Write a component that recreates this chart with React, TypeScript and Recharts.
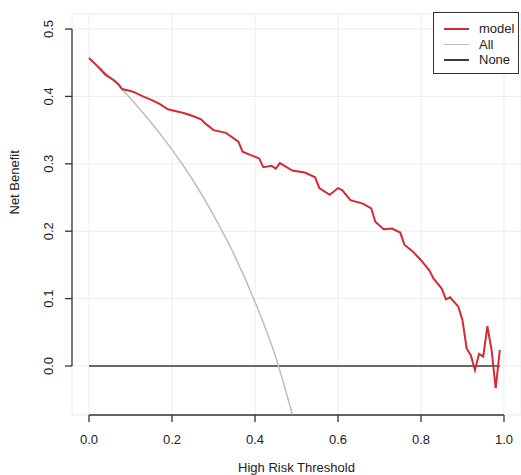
import React from "react";
import {
  LineChart,
  Line,
  XAxis,
  YAxis,
  CartesianGrid,
  ReferenceLine,
  Legend,
} from "recharts";

// threshold values and net benefit
const modelThreshold = [
  0, 0.02, 0.04, 0.06, 0.07, 0.08, 0.1, 0.11, 0.13, 0.15, 0.17, 0.19, 0.21,
  0.23, 0.25, 0.27, 0.28, 0.3, 0.33, 0.36, 0.37, 0.39, 0.41, 0.42, 0.44, 0.45,
  0.46, 0.49, 0.52, 0.545, 0.555, 0.58, 0.6, 0.61, 0.63, 0.66, 0.68, 0.69, 0.71,
  0.73, 0.75, 0.76, 0.78, 0.8, 0.82, 0.83, 0.85, 0.86, 0.87, 0.89, 0.9, 0.91,
  0.92, 0.93, 0.94, 0.95, 0.96, 0.97, 0.98, 0.99,
];
const modelBenefit = [
  0.457, 0.445, 0.432, 0.424, 0.419, 0.411, 0.408, 0.406, 0.4, 0.395, 0.389,
  0.381, 0.378, 0.375, 0.371, 0.366, 0.36, 0.35, 0.346, 0.333, 0.318, 0.313,
  0.308, 0.295, 0.297, 0.293, 0.301, 0.29, 0.287, 0.28, 0.264, 0.254, 0.264,
  0.261, 0.246, 0.241, 0.234, 0.214, 0.203, 0.204, 0.198, 0.18, 0.17, 0.157,
  0.142, 0.13, 0.115, 0.099, 0.102, 0.088, 0.068, 0.026, 0.016, -0.006, 0.018,
  0.014, 0.059, 0.024, -0.033, 0.024,
];

const allThreshold = [0, 0.05, 0.1, 0.15, 0.2, 0.25, 0.3, 0.35, 0.4, 0.45, 0.49];
const allBenefit = [
  0.457, 0.429, 0.397, 0.361, 0.321, 0.276, 0.224, 0.165, 0.095, 0.013, -0.072,
];

const noneThreshold = [0, 0.99];
const noneBenefit = [0, 0];

const xTicks = [0, 0.2, 0.4, 0.6, 0.8, 1.0];
const yTicks = [0, 0.1, 0.2, 0.3, 0.4, 0.5];

const legendNames = ["model", "All", "None"];
const legendColors = ["#d42a33", "#bdbdbd", "#3a3a3a"];

const modelData = modelThreshold.map((t, i) => ({ t, nb: modelBenefit[i] }));
const allData = allThreshold.map((t, i) => ({ t, nb: allBenefit[i] }));
const noneData = noneThreshold.map((t, i) => ({ t, nb: noneBenefit[i] }));

const font = "'Liberation Sans', Arial, sans-serif";
const ink = "#333";

const XTick = (props: any) => {
  const { x, payload } = props;
  return (
    <text x={x} y={444} textAnchor="middle" fontSize={13} fill="#222" fontFamily={font}>
      {Number(payload.value).toFixed(1)}
    </text>
  );
};

const YTick = (props: any) => {
  const { y, payload } = props;
  return (
    <text
      transform={`translate(53,${y}) rotate(-90)`}
      textAnchor="middle"
      fontSize={13}
      fill="#222"
      fontFamily={font}
    >
      {Number(payload.value).toFixed(1)}
    </text>
  );
};

const LegendBox = () => (
  <div
    style={{
      border: `1px solid ${ink}`,
      background: "#fff",
      width: 86,
      height: 62,
      boxSizing: "border-box",
      padding: "8px 0 0 10px",
      fontFamily: font,
      fontSize: 13,
      color: "#222",
      lineHeight: "15.5px",
    }}
  >
    {legendNames.map((name, i) => (
      <div key={name} style={{ display: "flex", alignItems: "center" }}>
        <span
          style={{
            display: "inline-block",
            width: 25,
            height: i === 0 ? 2 : 1.5,
            background: legendColors[i],
            marginRight: 10,
          }}
        />
        <span>{name}</span>
      </div>
    ))}
  </div>
);

export default function App() {
  return (
    <div style={{ position: "absolute", left: 0, top: 0, background: "#fff" }}>
      <LineChart
        width={521}
        height={475}
        margin={{ top: 14, right: 0, bottom: 0, left: 0 }}
      >
        <CartesianGrid stroke="#ececec" strokeWidth={1} />
        <XAxis
          type="number"
          dataKey="t"
          domain={[-0.041, 1.041]}
          ticks={xTicks}
          allowDataOverflow
          axisLine={false}
          tickSize={7}
          tickLine={{ stroke: ink, strokeWidth: 1.3 }}
          tick={<XTick />}
          height={60}
          label={{
            value: "High Risk Threshold",
            position: "insideBottom",
            offset: 3,
            fontSize: 13,
            fill: "#222",
            fontFamily: font,
          }}
        />
        <YAxis
          type="number"
          domain={[-0.0727, 0.5223]}
          ticks={yTicks}
          allowDataOverflow
          axisLine={false}
          tickSize={7}
          tickLine={{ stroke: ink, strokeWidth: 1.3 }}
          tick={<YTick />}
          width={72}
          label={{
            value: "Net Benefit",
            angle: -90,
            position: "insideLeft",
            offset: 14,
            fontSize: 13,
            fill: "#222",
            fontFamily: font,
          }}
        />
        <ReferenceLine
          segment={[
            { x: -0.041, y: 0 },
            { x: -0.041, y: 0.5 },
          ]}
          stroke={ink}
          strokeWidth={1.3}
          ifOverflow="visible"
        />
        <ReferenceLine
          segment={[
            { x: 0, y: -0.0727 },
            { x: 1, y: -0.0727 },
          ]}
          stroke={ink}
          strokeWidth={1.3}
          ifOverflow="visible"
        />
        <Line
          data={noneData}
          dataKey="nb"
          name="None"
          stroke={legendColors[2]}
          strokeWidth={1.5}
          dot={false}
          isAnimationActive={false}
        />
        <Line
          data={allData}
          dataKey="nb"
          name="All"
          type="monotone"
          stroke={legendColors[1]}
          strokeWidth={1.5}
          dot={false}
          isAnimationActive={false}
        />
        <Line
          data={modelData}
          dataKey="nb"
          name="model"
          stroke={legendColors[0]}
          strokeWidth={2}
          dot={false}
          isAnimationActive={false}
        />
        <Legend
          layout="horizontal"
          verticalAlign="middle"
          align="center"
          content={<LegendBox />}
          wrapperStyle={{ top: 12, left: 433, width: 88 }}
        />
      </LineChart>
    </div>
  );
}
